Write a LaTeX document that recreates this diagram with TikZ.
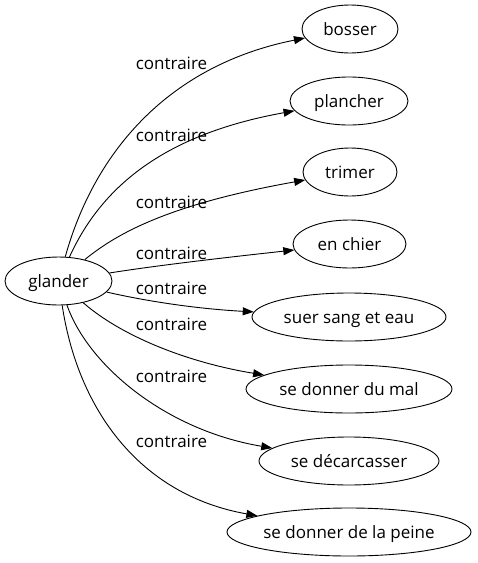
\documentclass[tikz,border=0pt]{standalone}
\usepackage{fontspec}
\setmainfont{Open Sans}
\usetikzlibrary{shapes.geometric,arrows.meta}

\begin{document}
\begin{tikzpicture}[x=1pt, y=-1pt, line width=0.9pt, >={Triangle[length=11pt,width=8pt]}]
	\tikzstyle{every node}=[align=center, inner sep=0pt, font=\fontsize{17}{20}\selectfont, text=black]
	\tikzstyle{word}=[draw, ellipse, minimum height=48pt, text height=12pt, text depth=0pt]
	\tikzstyle{rel}=[anchor=base]
	\useasboundingbox (0,0) rectangle (478,563);

	\node[word, minimum width=107pt] (glander) at (58.5, 281) {glander};
	\node[word, minimum width=96pt] (bosser) at (350, 29) {bosser};
	\node[word, minimum width=118pt] (plancher) at (349, 101) {plancher};
	\node[word, minimum width=94pt] (trimer) at (350, 172) {trimer};
	\node[word, minimum width=113pt] (enchier) at (349.5, 244) {en chier};
	\node[word, minimum width=194pt] (suer) at (349, 317) {suer sang et eau};
	\node[word, minimum width=206pt] (mal) at (349, 389) {se donner du mal};
	\node[word, minimum width=180pt] (decarc) at (349, 461) {se décarcasser};
	\node[word, minimum width=244pt] (peine) at (349, 532) {se donner de la peine};

	\node[rel] (c1) at (171.5, 69) {contraire};
	\node[rel] (c2) at (171.5, 141.5) {contraire};
	\node[rel] (c3) at (171.5, 208) {contraire};
	\node[rel] (c4) at (171.5, 259) {contraire};
	\node[rel] (c5) at (171.5, 294) {contraire};
	\node[rel] (c6) at (171.5, 330.5) {contraire};
	\node[rel] (c7) at (171.5, 382) {contraire};
	\node[rel] (c8) at (171.5, 447) {contraire};

	\draw[->] (glander) .. controls (95,150) and (170,65) .. (bosser);
	\draw[->] (glander) .. controls (100,190) and (160,135) .. (plancher);
	\draw[->] (glander) .. controls (115,235) and (165,205) .. (trimer);
	\draw[->] (glander) .. controls (160,265) and (230,257) .. (enchier);
	\draw[->] (glander) .. controls (150,302) and (200,309) .. (suer);
	\draw[->] (glander) .. controls (120,335) and (185,362) .. (mal);
	\draw[->] (glander) .. controls (88,365) and (165,430) .. (decarc);
	\draw[->] (glander) .. controls (78,410) and (140,495) .. (peine);
\end{tikzpicture}
\end{document}
